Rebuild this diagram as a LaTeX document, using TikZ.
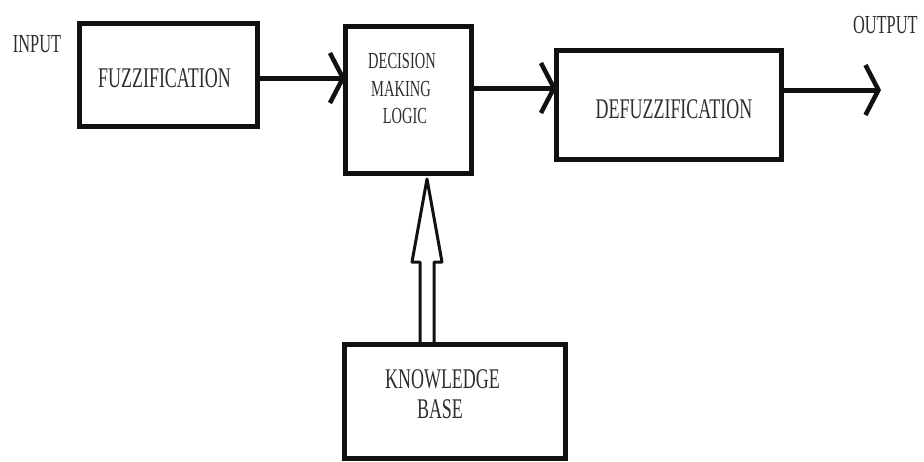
\documentclass[tikz,border=0pt]{standalone}
\usepackage{fontspec}
\setmainfont{Liberation Serif}
\newfontfamily\condfont{Liberation Serif}[FakeStretch=0.63]
\usetikzlibrary{arrows.meta,calc}
\definecolor{ink}{HTML}{111111}
\definecolor{txt}{HTML}{2E2E2E}
\begin{document}
\begin{tikzpicture}[x=1pt,y=-1pt,
  blockbox/.style={draw=ink,line width=5pt,rectangle,inner sep=0pt,outer sep=0pt},
  lbl/.style={inner sep=0pt,outer sep=0pt,text=txt,anchor=base},
  big/.style={font=\condfont\fontsize{28.5}{32}\selectfont},
  mid/.style={font=\condfont\fontsize{23}{27}\selectfont},
  small/.style={font=\condfont\fontsize{26}{30}\selectfont},
  arr/.style={draw=ink,line width=5pt,-{Straight Barb[length=13pt,width=50pt,line width=4.5pt]}},
  hollow/.style={draw=ink,line width=3pt,line join=round}]
\useasboundingbox (0,0) rectangle (924,461);
% boxes
\node[blockbox,minimum width=178pt,minimum height=103pt] (fuzz) at (168.5,75) {};
\node[blockbox,minimum width=126pt,minimum height=147pt] (dml) at (408.5,100) {};
\node[blockbox,minimum width=225pt,minimum height=109pt] (defuzz) at (669,105) {};
\node[blockbox,minimum width=221pt,minimum height=113.5pt] (kb) at (455,401.25) {};
% texts
\node[lbl,small] (tin) at (37,52) {INPUT};
\node[lbl,small,anchor=base west] (tout) at (853,33) {OUTPUT};
\node[lbl,big] (tfuzz) at (164.5,87) {FUZZIFICATION};
\node[lbl,mid] (tdm1) at (402,68) {DECISION};
\node[lbl,mid] (tdm2) at (401,96) {MAKING};
\node[lbl,mid] (tdm3) at (405,123) {LOGIC};
\node[lbl,big] (tdef) at (674,118) {DEFUZZIFICATION};
\node[lbl,big] (tkb1) at (442.5,388) {KNOWLEDGE};
\node[lbl,big] (tkb2) at (440,418) {BASE};
% connectors
\coordinate (a1) at ([yshift=-3pt]fuzz.east);
\draw[arr] (a1) -- (a1 -| dml.west);
\coordinate (a2) at ([yshift=12pt]dml.east);
\draw[arr] (a2) -- (a2 -| defuzz.west);
\coordinate (a3) at ([yshift=15pt]defuzz.east);
\coordinate (outend) at (881,90);
\draw[arr] (a3) -- (outend);
% hollow arrow from knowledge base to decision making logic
\path (kb.north) ++(-28,0) coordinate (hb);
\coordinate (ht) at ($(hb |- dml.south)+(0,5.5)$);
\draw[hollow] ($(hb)+(-7,0)$) -- ($(hb)+(-7,-82.5)$) -- ($(hb)+(-15,-82.5)$)
  -- (ht) -- ($(hb)+(15,-82.5)$) -- ($(hb)+(7,-82.5)$) -- ($(hb)+(7,0)$);
\end{tikzpicture}
\end{document}
